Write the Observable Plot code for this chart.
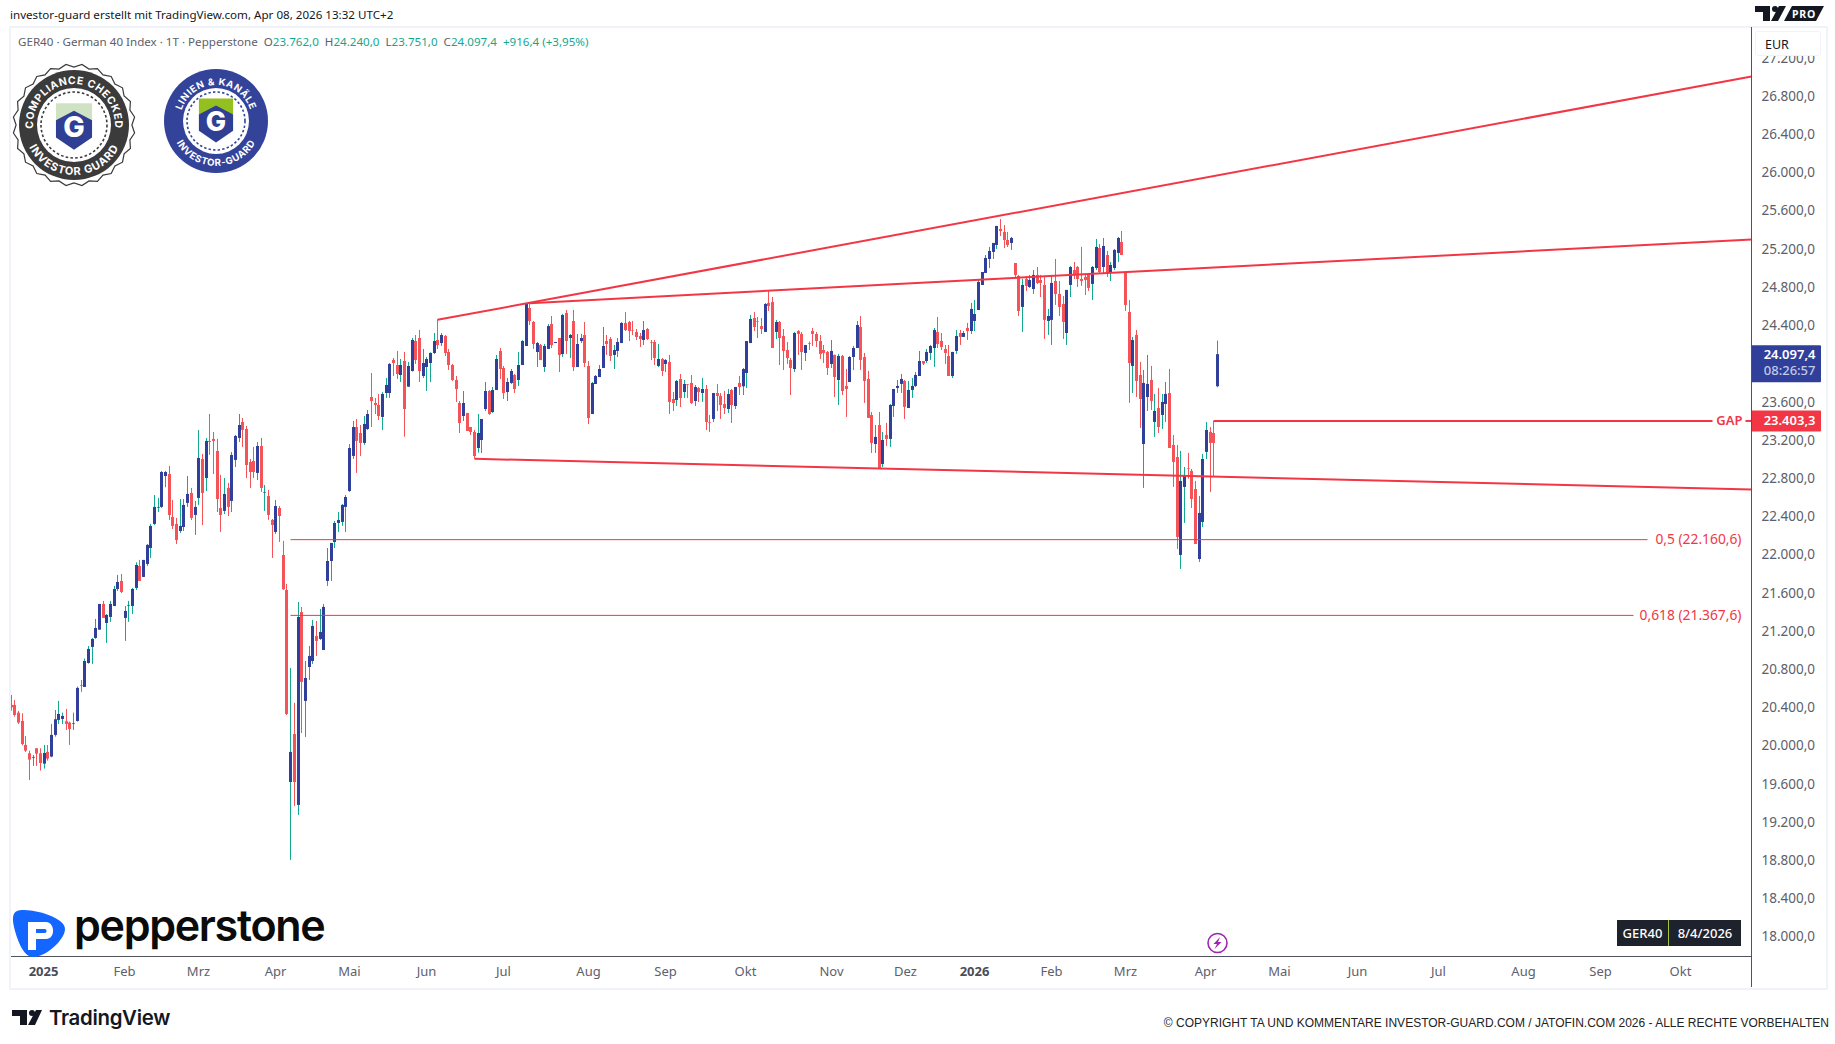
<!DOCTYPE html>
<html lang="de"><head><meta charset="utf-8"><title>GER40</title>
<script src="https://cdn.jsdelivr.net/npm/d3@7"></script>
<script src="https://cdn.jsdelivr.net/npm/@observablehq/plot@0.6"></script>
<style>
html,body{margin:0;padding:0;background:#fff;overflow:hidden}
#wrap{position:relative;width:1835px;height:1044px;font-family:"Noto Sans",sans-serif;overflow:hidden}
#head{height:27px;line-height:30px;font-size:11.6px;color:#131722;padding-left:10px;box-sizing:border-box;white-space:nowrap}
#chart svg{display:block}
.abs{position:absolute}
#legend{left:18px;top:33px;font-size:11.6px;color:#5d606b;white-space:nowrap;line-height:18px}
#legend b{font-weight:400;color:#12a88e}
#frame{left:9px;top:26px;width:1815px;height:960px;border:2px solid #f0f3fa;pointer-events:none}
#vline{left:1751px;top:27px;width:1px;height:960px;background:#50535e}
#eur{left:1755px;top:31px;width:66px;height:25px;background:#fff;border:1px solid #f0f3fa;border-radius:3px;box-sizing:border-box;font-size:12.5px;color:#131722;line-height:26px;padding-left:9px}
#sym{left:1617px;top:920px;width:124px;height:26px;background:#1e222d;color:#fff;font-size:13px;line-height:26px;display:flex}
#sym span{display:block;text-align:center}
#sym span:first-child{width:52px;border-right:1px solid #a5c63b;box-sizing:border-box;font-weight:500}
#sym span:last-child{width:72px;font-weight:500}
#copy{right:6px;top:1016px;font:12px "Liberation Sans",Arial,sans-serif;color:#222;white-space:nowrap}
#tv{left:49px;top:1005px;font:600 20.4px Inter,sans-serif;color:#131722;letter-spacing:-.3px}
#pep{left:74px;top:895px;font:600 43px Inter,sans-serif;color:#0b0b0b;letter-spacing:-1.3px;line-height:60px}
</style></head><body>
<div id="wrap">
  <div id="head">investor-guard erstellt mit TradingView.com, Apr 08, 2026 13:32 UTC+2</div>
  <div id="chart"></div>
  <div class="abs" id="frame"></div>
  <div class="abs" id="vline"></div>
  <div class="abs" id="legend">GER40 · German 40 Index · 1T · Pepperstone &nbsp;O<b>23.762,0</b> &nbsp;H<b>24.240,0</b> &nbsp;L<b>23.751,0</b> &nbsp;C<b>24.097,4</b> &nbsp;<b>+916,4 (+3,95%)</b></div>
  <div class="abs" id="eur">EUR</div>
  <div class="abs" id="sym"><span>GER40</span><span>8/4/2026</span></div>
  <div class="abs" id="pep">pepperstone</div>
  <div class="abs" id="tv">TradingView</div>
  <div class="abs" id="copy">© COPYRIGHT TA UND KOMMENTARE INVESTOR-GUARD.COM / JATOFIN.COM 2026 - ALLE RECHTE VORBEHALTEN</div>
  <svg class="abs" id="deco" width="1835" height="1044" style="left:0;top:0;pointer-events:none"></svg>
</div>
<script>
// Bar direction per session: b = up (blue), r = down (red)
const upDown = "rrrrrrbrrb"+"rbbbbrrbbr"+"bbbbbrbbbb"+"rbbbbrbbbb"+"bbbrrrbbbr"+"bbrbrrrrbr"+"bbbrrrrbrb"+"rrbrrrbrbr"+"bbbrbbbbbb"+"bbbbrrbbrr"
 +"rbbbrrbrbb"+"rrbbbbrbrr"+"rrrbrrrbbb"+"rbbrrbbrbb"+"brrbrbbrbr"+"brbrbbrrbb"+"bbrrbbbrrr"+"rrbrrrbrbr"+"rbrbrrbrbr"+"rbrrrbrbrb"
 +"bbrrrbrrbr"+"rrrbrrbrrr"+"rrrbrbrrbb"+"brrrrbrbrb"+"bbbrbbbbrb"+"bbrrrrbbrb"+"rbbbbbbbbr"+"rrbrrbrbbr"+"rrbbrrrbbr"+"rrrrbbrbrb"
 +"bbrrrbrrbb"+"rbrbbrrrbb"+"rrrbbbrrb";
const highs = [20529,20477,20362,20337,20100,19946,19901,19971,19971,20006,
20006,20226,20372,20467,20344,20383,20250,20344,20617,20686,
20910,21042,21126,21325,21482,21514,21377,21514,21671,21786,
21796,21461,21514,21650,21918,21943,21943,22110,22320,22623,
22592,22875,22875,22927,22571,22383,22581,22581,22822,22697,
22561,23304,23053,23220,23471,23283,23210,22833,22801,22749,
23074,23252,23471,23430,23346,23000,23126,23178,23220,22728,
22676,22372,22571,22508,22142,21692,20812,20446,21503,21451,
20885,21042,21315,21304,21430,21482,22068,22121,22351,22445,
22529,22623,23157,23398,23419,23356,23450,23513,23900,23639,
23681,23701,23848,24005,24057,24131,24047,24120,24016,24267,
24298,24351,24152,24068,24117,24319,24462,24319,24298,24152,
23995,23869,23607,23712,23482,23335,23304,23471,23419,23806,
23722,23754,24089,24162,23974,23848,23942,23890,24120,24246,
24633,24637,24445,24225,24204,24204,24413,24497,24225,24267,
24518,24560,24309,24560,24309,24309,24434,24026,23806,23879,
23984,24382,24298,24277,24193,24267,24434,24539,24445,24445,
24361,24319,24445,24371,24246,24246,24204,24057,24047,24089,
23701,23827,23890,23827,23785,23879,23775,23754,23848,23775,
23461,23691,23785,23691,23712,23733,23733,23754,23869,23953,
24235,24508,24539,24487,24476,24633,24769,24696,24455,24445,
24361,24225,24057,24330,24350,24330,24193,24230,24371,24330,
24298,24193,24131,24246,24095,24100,24089,23943,24079,24183,
24445,24497,24110,23922,23492,23356,23492,23283,23377,23576,
23733,23827,23890,23827,23817,23848,23911,24131,24026,24152,
24194,24372,24487,24319,24194,24194,24121,24351,24351,24340,
24424,24634,24665,24874,24958,25136,25220,25262,25440,25513,
25450,25377,25325,25052,24927,24885,24916,24927,24979,25010,
24927,24906,24571,24916,25094,24864,24707,24770,25021,25063,
25021,25220,24937,24948,25021,25304,25251,25314,25178,25063,
25199,25325,25387,24958,24665,24278,24351,24016,23932,24089,
23974,23681,23744,23681,23806,23943,23251,23147,23084,22916,
23063,22896,22770,22613,23053,23388,23335,23398,24240];
const bodyTops = [20425,20425,20344,20257,20006,19919,19880,19971,19919,19922,
19933,20111,20275,20330,20310,20254,20240,20236,20603,20631,
20885,21011,21116,21231,21482,21482,21367,21482,21639,21712,
21723,21409,21472,21639,21890,21880,21943,22100,22299,22498,
22498,22864,22864,22843,22393,22320,22299,22519,22634,22644,
22498,23011,23000,23189,23189,23210,23084,22487,22634,22697,
23042,23241,23356,23388,23314,22969,22979,23136,23136,22655,
22613,22362,22508,22487,21995,21629,19933,20121,21346,21398,
20707,20938,21252,21147,21189,21451,21932,22121,22330,22362,
22519,22602,23115,23335,23335,23272,23367,23471,23649,23586,
23565,23681,23775,23995,24037,23984,23984,24026,23974,24246,
24235,24267,24005,24047,24110,24235,24246,24298,24288,24120,
23984,23827,23586,23586,23482,23335,23283,23272,23419,23712,
23712,23722,24047,24131,23953,23806,23921,23879,23984,24235,
24623,24581,24434,24214,24193,24183,24392,24413,24225,24267,
24508,24529,24298,24445,24204,24267,24298,23974,23796,23869,
23942,24183,24235,24256,24141,24225,24424,24424,24434,24350,
24330,24288,24350,24361,24225,24225,24047,24047,24036,24015,
23628,23817,23837,23785,23782,23796,23754,23743,23733,23733,
23384,23691,23691,23660,23576,23680,23722,23754,23796,23942,
24235,24466,24476,24445,24392,24623,24633,24644,24434,24434,
24288,24141,24036,24319,24340,24309,24193,24214,24340,24309,
24235,24141,24120,24131,24089,24079,24079,23765,24068,24162,
24403,24382,24068,23838,23461,23231,23356,23199,23252,23566,
23733,23765,23838,23817,23723,23765,23880,24026,24026,24121,
24183,24351,24330,24236,24152,24079,24121,24288,24319,24319,
24372,24571,24518,24853,24958,25105,25178,25262,25440,25408,
25377,25293,25314,25052,24916,24822,24885,24874,24927,24927,
24874,24822,24497,24843,24864,24728,24623,24770,25010,24979,
25010,24885,24906,24927,25010,25220,25209,25230,25136,25031,
25189,25314,25272,24948,24539,24246,24299,23880,23796,23786,
23827,23503,23534,23597,23681,23691,23147,23021,22770,22833,
22903,22875,22686,22435,23000,23304,23283,23272,24097.4];
const bodyBottoms = [20400,20320,20240,20016,19946,19852,19873,19915,19817,19810,
19863,19884,20111,20268,20278,20226,20173,20229,20257,20624,
20613,20864,21032,21126,21213,21336,21283,21346,21461,21639,
21608,21336,21465,21461,21650,21723,21765,21901,22068,22320,
22491,22498,22822,22414,22299,22152,22246,22288,22540,22383,
22414,22592,22644,22801,23178,23189,22581,22414,22456,22498,
22561,22990,23220,23304,22937,22864,22864,22854,22697,22648,
22414,22309,22236,22403,21636,20330,19618,19618,19378,20666,
20467,20822,20885,21095,21116,21000,21723,21932,22131,22330,
22341,22498,22665,23032,23189,23168,23168,23314,23607,23565,
23450,23440,23691,23691,24005,23890,23879,23523,23757,23921,
24037,23921,23869,23963,24005,24110,24193,24214,24110,23984,
23827,23733,23377,23450,23293,23283,23031,23115,23199,23523,
23471,23492,23722,23942,23691,23701,23796,23733,23827,23984,
24183,24445,24204,24120,24036,23963,24152,24193,24214,24089,
24099,24235,24267,23963,23963,24235,24005,23429,23471,23785,
23858,23953,24204,24078,24089,24131,24214,24350,24340,24344,
24277,24256,24246,24256,24218,24057,23974,23921,23995,23597,
23586,23618,23639,23701,23775,23586,23607,23701,23691,23387,
23377,23419,23660,23565,23534,23523,23565,23555,23754,23761,
23900,24214,24382,24438,24361,24330,24602,24162,24330,24267,
24131,24057,23953,23942,24309,24120,24110,24207,24309,24235,
24099,24110,23953,23995,23859,23827,23712,23733,23806,24068,
24162,24037,23817,23430,23168,23157,22906,22948,23210,23210,
23555,23744,23786,23545,23534,23723,23765,23869,23998,24026,
24110,24162,24204,24173,24110,23869,23869,24131,24278,24278,
24340,24340,24445,24560,24822,24948,25094,25168,25241,25387,
25293,25241,25262,24927,24550,24592,24812,24801,24780,24843,
24843,24456,24445,24456,24728,24592,24435,24319,24822,24927,
24885,24864,24874,24791,24833,25000,24958,25010,24948,24958,
25000,25157,25136,24613,24005,23974,23817,23628,23157,23649,
23608,23388,23335,23461,23576,23115,22969,22184,21995,22707,
22896,22581,22110,21953,22341,23074,23168,23168,23762];
const lows = [20365,20303,20226,20002,19933,19639,19786,19786,19737,19758,
19842,19877,20093,20226,20226,20163,20006,20163,20250,20561,
20613,20857,20854,21116,21213,21336,21074,21294,21461,21618,
21597,21095,21294,21377,21629,21723,21765,21880,21964,22309,
22445,22487,22704,22362,22267,22110,22225,22246,22498,22362,
22205,22519,22309,22665,23042,22843,22445,22236,22424,22403,
22445,22916,23178,23126,22801,22697,22801,22780,22655,22456,
22362,21964,22215,22131,21629,20320,18802,19367,19273,20131,
20090,20686,20854,20938,21105,21000,21671,21723,22068,22236,
22299,22236,22655,23000,22854,23032,23147,23304,23335,23471,
23408,23304,23639,23639,23869,23838,23806,23233,23755,23915,
23995,23806,23848,23712,23806,24099,24152,24183,24078,23932,
23817,23597,23272,23398,23293,23251,23003,23066,23063,23502,
23461,23482,23722,23837,23628,23607,23785,23691,23764,23984,
24183,24403,24152,23963,24036,23911,24152,24162,24214,23911,
24068,24099,24057,23921,23963,24214,23963,23366,23471,23785,
23858,23953,24089,24026,23942,24068,24214,24340,24235,24298,
24246,24173,24193,24246,24036,23984,23963,23869,23911,23471,
23502,23555,23544,23639,23639,23576,23555,23597,23597,23303,
23283,23387,23502,23419,23471,23482,23377,23523,23670,23670,
23743,24214,24340,24267,24309,24330,24549,24162,24256,23984,
23932,23995,23670,23911,24089,23932,24026,24141,24183,24173,
24047,24005,23879,23953,23649,23566,23670,23440,23806,23932,
24162,23932,23587,23430,23063,23063,22906,22916,23136,23126,
23440,23691,23691,23419,23534,23639,23754,23869,23984,24005,
24037,23964,24162,24142,23995,23869,23848,24100,24194,24278,
24246,24309,24340,24560,24822,24948,25000,25094,25199,25335,
25209,25220,25188,24906,24497,24330,24759,24791,24728,24833,
24696,24257,24299,24194,24613,24497,24257,24194,24696,24885,
24801,24812,24717,24759,24665,24979,24937,24948,24906,24864,
24979,25063,25136,24550,23587,23691,23649,23325,22697,23503,
23513,23231,23272,23314,23388,23115,22707,22058,21849,22330,
22794,22487,22110,21922,22288,23000,22655,22822,23751];

// 24.000,0 sits behind the current-price tag in the reference, so it is not listed
const priceTicks = [18000,18400,18800,19200,19600,20000,20400,20800,21200,21600,22000,22400,22800,23200,23600,24400,24800,25200,25600,26000,26400,26800,27200];
const monthLabels = ["Feb","Mrz","Apr","Mai","Jun","Jul","Aug","Sep","Okt","Nov","Dez","Feb","Mrz","Apr","Mai","Jun","Jul","Aug","Sep","Okt"];
const monthBars = [30.8,50.9,71.9,92,112.9,133.9,156.9,177.9,199.7,223,243.2,282.9,303,324.7,344.9,366.1,388.1,411.2,432.1,454];
const yearLabels = ["2025","2026"];
const yearBars = [8.8,262];

// Drawn levels and trend lines: bar number and price of their ends
const wedgeTop = [[116,24462],[473.2,27010]];
const wedgeMid = [[141,24637],[473.2,25303]];
const wedgeLow = [[126,23007],[473.2,22686]];
const gapLevel = 23403.3, fib50 = 22160.6, fib618 = 21367.6, lastClose = 24097.4;

const fmt = new Intl.NumberFormat("de-DE",{minimumFractionDigits:1,maximumFractionDigits:1});
const bars = highs.map((h,i)=>({i,h,t:bodyTops[i],b:bodyBottoms[i],l:lows[i],up:upDown[i]==="b"}));
const up = bars.filter(d=>d.up), down = bars.filter(d=>!d.up);
const RED="#f23645", BLUE="#303f9a", TEAL="#14a88f", CANDLE="#f45357", GREY="#5d606b";
const segs = a => ({x1:a[0][0],y1:a[0][1],x2:a[1][0],y2:a[1][1]});

// Price tag in the axis strip, placed by the y scale
function tag(price, above, below, fill, rows){
  return (index, scales) => {
    const y = scales.y(price), g = d3.create("svg:g");
    g.append("rect").attr("x",1751).attr("y",y-above).attr("width",70).attr("height",above+below).attr("rx",1).attr("fill",fill);
    rows.forEach(r=>g.append("text").attr("x",1815.5).attr("y",y+r.dy).attr("text-anchor","end").attr("font-size",13)
      .attr("font-weight",r.w||500).attr("fill",r.c).attr("font-family",'"Noto Sans",sans-serif').text(r.s));
    return g.node();
  };
}

const plot = Plot.plot({
  width:1835, height:960, marginTop:0, marginLeft:10, marginRight:84, marginBottom:31,
  style:{background:"transparent",fontFamily:'"Noto Sans",sans-serif',overflow:"visible"},
  x:{domain:[-0.17,473.2],round:true,axis:null},
  y:{domain:[17796,27523],axis:null},
  marks:[
    Plot.ruleX(up,{x:"i",y1:"l",y2:"h",stroke:TEAL,strokeWidth:1,clip:"frame"}),
    Plot.ruleX(down,{x:"i",y1:"l",y2:"h",stroke:CANDLE,strokeWidth:1,clip:"frame"}),
    Plot.ruleX(up,{x:"i",y1:"b",y2:"t",stroke:BLUE,strokeWidth:3,clip:"frame"}),
    Plot.ruleX(down,{x:"i",y1:"b",y2:"t",stroke:CANDLE,strokeWidth:3,clip:"frame"}),
    Plot.link([wedgeTop,wedgeMid,wedgeLow].map(segs),{x1:"x1",y1:"y1",x2:"x2",y2:"y2",stroke:RED,strokeWidth:2}),
    Plot.link([{a:76,b:445,y:fib50},{a:76,b:441,y:fib618}],{x1:"a",x2:"b",y1:"y",y2:"y",stroke:RED,strokeWidth:1}),
    Plot.link([{a:327,b:462.6,y:gapLevel},{a:471.5,b:473.2,y:gapLevel}],{x1:"a",x2:"b",y1:"y",y2:"y",stroke:RED,strokeWidth:2}),
    Plot.text([{x:470.5,y:fib50,s:"0,5 (22.160,6)"},{x:470.5,y:fib618,s:"0,618 (21.367,6)"}],{x:"x",y:"y",text:"s",textAnchor:"end",fill:RED,fontSize:13.8}),
    Plot.text([{x:470.7,y:gapLevel,s:"GAP"}],{x:"x",y:"y",text:"s",textAnchor:"end",fill:RED,fontSize:13,fontWeight:600}),
    Plot.ruleY([17796],{stroke:"#50535e",strokeWidth:1}),
    Plot.axisY({anchor:"right",ticks:priceTicks,tickSize:0,tickPadding:10,tickFormat:d=>fmt.format(d),fontSize:13.5,fill:GREY,label:null}),
    Plot.axisX({ticks:monthBars,tickSize:0,tickPadding:10,tickFormat:d=>monthLabels[monthBars.indexOf(d)],fontSize:13,fill:GREY,label:null}),
    Plot.axisX({ticks:yearBars,tickSize:0,tickPadding:10,tickFormat:d=>yearLabels[yearBars.indexOf(d)],fontSize:13,fontWeight:700,fill:"#4a4d57",label:null}),
    tag(lastClose,9,28,BLUE,[{s:fmt.format(lastClose),dy:5,c:"#fff",w:600},{s:"08:26:57",dy:21,c:"#c3c9e6"}]),
    tag(gapLevel,10,11,RED,[{s:fmt.format(gapLevel),dy:5,c:"#fff",w:600}])
  ]
});
document.getElementById("chart").append(plot);

// Decoration: logos and stamps
const scallop=(cx,cy,r,n,a)=>d3.range(n*2).map(k=>{const t=k*Math.PI/n,q=r+(k%2?a:-a);return [cx+q*Math.cos(t),cy+q*Math.sin(t)].map(v=>v.toFixed(1)).join(",")}).join(" ");
function shield(cx,cy,s,top){
 const p=(a)=>a.map(([x,y])=>`${cx+x*s},${cy+y*s}`).join(" ");
 return `<polygon points="${p([[-19,-24],[19,-24],[19,-6],[0,6],[-19,-6]])}" fill="${top}"/>
 <polygon points="${p([[0,-16],[19,-6],[19,12],[0,25],[-19,12],[-19,-6]])}" fill="#2f3f93"/>
 <text x="${cx}" y="${cy+12*s}" text-anchor="middle" font-family="Inter,sans-serif" font-weight="800" font-size="${30*s}" fill="#fff">G</text>`;
}
function arcs(id,cx,cy,rTop,rBot){
 return `<path id="${id}t" d="M${cx-rTop},${cy} A${rTop},${rTop} 0 0 1 ${cx+rTop},${cy}"/><path id="${id}b" d="M${cx-rBot},${cy} A${rBot},${rBot} 0 0 0 ${cx+rBot},${cy}"/>`;
}
const tp=(id,s,fs,ls)=>`<text font-family="Inter,sans-serif" font-weight="700" font-size="${fs}" fill="#fff" letter-spacing="${ls}"><textPath href="#${id}" startOffset="50%" text-anchor="middle">${s}</textPath></text>`;
document.getElementById("deco").innerHTML=`
<defs>${arcs("a",74,125,41,50)}${arcs("c",216,121,36,45)}</defs>
<polygon points="${scallop(74,125,59.5,24,1.6)}" fill="#fff" stroke="#3a3a3a" stroke-width="1.2"/>
<circle cx="74" cy="125" r="55" fill="#3b3b3b"/><circle cx="74" cy="125" r="37" fill="#fff"/>
<circle cx="74" cy="125" r="33" fill="none" stroke="#3b3b3b" stroke-width="1.6" stroke-dasharray="2.6 2.2"/>
${tp("at","COMPLIANCE CHECKED",10.5,.6)}${tp("ab","INVESTOR GUARD",11,.9)}
${shield(74,126,.95,"#cfe3c4")}
<circle cx="216" cy="121" r="52" fill="#33439a"/><circle cx="216" cy="121" r="33" fill="#fff"/>
<circle cx="216" cy="121" r="29" fill="none" stroke="#33439a" stroke-width="1.6" stroke-dasharray="2.4 2.2"/>
${tp("ct","LINIEN &amp; KANÄLE",9.6,.6)}${tp("cb","INVESTOR-GUARD",9.6,.6)}
${shield(216,120,.9,"#93c01f")}
<path d="M17,911 C24,908 48,912 60,921 C67,926 66,932 61,939 C54,949 42,957 33,957 C25,957 19,945 15,931 C12,920 12,913 17,911 Z" fill="#1366ff"/>
<path d="M28,922 H46 C55,922 56,939 46,939 H36 V950 H28 Z M36,929 V933 H45 C47,933 47,929 45,929 Z" fill="#fff" fill-rule="evenodd"/>
<g fill="#131722">
 <path d="M12,1010 H27 V1025 H20 V1016 H12 Z"/><circle cx="32" cy="1013" r="3"/><path d="M36,1010 H42 L35,1025 H28 Z"/>
 <path d="M1755,6 H1770 V21 H1763 V12 H1755 Z"/><circle cx="1775" cy="9" r="3"/><path d="M1779,6 H1786 L1778,21 H1771 Z"/>
 <path d="M1792,6 H1824 L1816,21 H1784 Z"/>
</g>
<text x="1804" y="18" text-anchor="middle" font-family="Noto Sans,sans-serif" font-weight="700" font-size="10.5" fill="#fff" letter-spacing=".8">PRO</text>
<circle cx="1217.5" cy="943" r="9.5" fill="#fff" stroke="#9c27b0" stroke-width="1.6"/>
<path d="M1220,937 L1213.5,944 H1217 L1214.5,949 L1221.5,942 H1218 Z" fill="#9c27b0"/>`;
</script>
</body></html>
